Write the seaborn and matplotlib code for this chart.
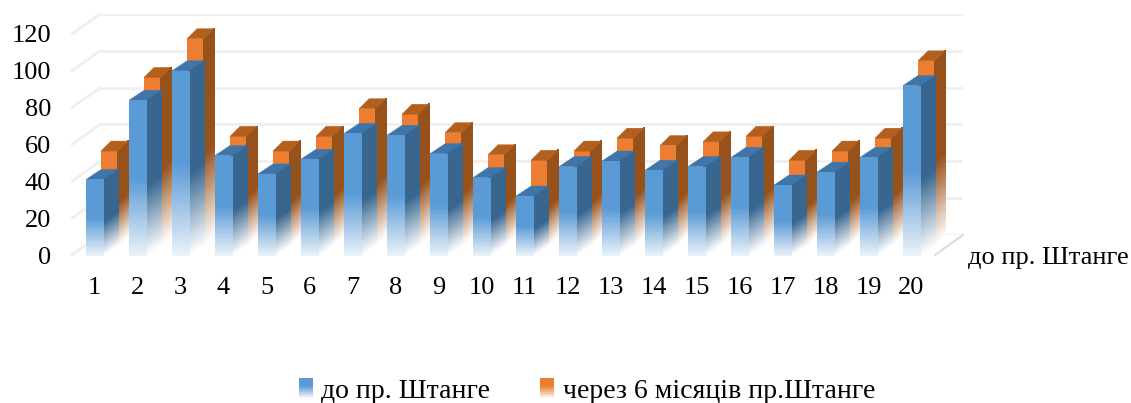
import matplotlib
matplotlib.use('Agg')
import matplotlib.pyplot as plt
import numpy as np
import pandas as pd
import seaborn as sns
from matplotlib.collections import PolyCollection
from matplotlib.legend_handler import HandlerBase
from matplotlib.patches import Patch, Polygon, Rectangle

# Data
participants = [str(i) for i in range(1, 21)]
before = [41, 84, 100, 54, 44, 52, 66, 65, 55, 42, 32, 48, 51, 46, 48, 53, 38, 45, 53, 92]
after = [51, 91, 112, 59, 51, 59, 74, 71, 61, 49, 46, 51, 58, 54, 56, 59, 46, 51, 58, 100]
y_ticks = [0, 20, 40, 60, 80, 100, 120]
series_names = ['до пр. Штанге', 'через 6 місяців пр.Штанге']

# Colours
BLUE, BLUE_SIDE, BLUE_TOP = '#5b9bd5', '#38668f', '#3f75a8'
ORANGE, ORANGE_SIDE, ORANGE_TOP = '#ed7d31', '#97521c', '#b3601f'

W, H = 1131, 403
PX_X = 43.0     # pixels per category
PX_Y = 221 / 120  # pixels per value unit

sns.set_style('white')
plt.rcParams['font.family'] = ['Liberation Serif', 'DejaVu Serif']
plt.rcParams['text.color'] = 'black'
plt.rcParams['xtick.color'] = 'black'
plt.rcParams['ytick.color'] = 'black'
fig = plt.figure(figsize=(W / 100, H / 100), dpi=100)


def plane(left, y0, width=861):
    """Transparent axes whose zero line sits at pixel (left, y0)."""
    ax = fig.add_axes([left / W, 1 - y0 / H, width / W, 221 / H])
    ax.patch.set_alpha(0)
    sns.despine(ax=ax, left=True, bottom=True)
    return ax


def mix_white(color, amount):
    rgb = np.array(matplotlib.colors.to_rgb(color))
    return tuple(rgb + (1 - rgb) * amount)


def faded(ax, corners, color, fade, start, n=60):
    """Draw a face as thin slices, going to white at its lower edge."""
    (bl, br, tr, tl) = [np.array(c, dtype=float) for c in corners]
    polys, colors = [], []
    for i in range(n):
        t0, t1 = i / n, (i + 1) / n
        polys.append([bl + (tl - bl) * t0, br + (tr - br) * t0,
                      br + (tr - br) * t1, bl + (tl - bl) * t1])
        amount = start * max(0, 1 - ((t0 + t1) / 2) / fade)
        colors.append(mix_white(color, amount))
    ax.add_collection(PolyCollection(polys, facecolors=colors, edgecolors=colors,
                                     linewidths=0.5, antialiaseds=False,
                                     zorder=2, clip_on=False))


def dress_bars(ax, px_dx, px_dy, side, top, front_fade=None, side_fade=0.45):
    dx, dy = px_dx / PX_X, px_dy / PX_Y
    for bar in ax.patches:
        x, w, h = bar.get_x(), bar.get_width(), bar.get_height()
        faded(ax, [(x + w, 0), (x + w + dx, dy), (x + w + dx, h + dy), (x + w, h)],
              side, side_fade, 1.0)
        ax.add_patch(Polygon([(x, h), (x + w, h), (x + w + dx, h + dy), (x + dx, h + dy)],
                             facecolor=top, edgecolor=top, linewidth=0.3,
                             zorder=2, clip_on=False))
        if front_fade:
            faded(ax, [(x, 0), (x + w, 0), (x + w, h), (x, h)],
                  bar.get_facecolor(), front_fade, 0.88)


class FadedSquare(HandlerBase):
    def create_artists(self, legend, orig, xd, yd, width, height, fontsize, trans):
        artists = []
        n = 12
        for i in range(n):
            amount = 0.85 * max(0, 1 - (i + 0.5) / n / 0.6)
            c = mix_white(orig.get_facecolor(), amount)
            artists.append(Rectangle((-xd, -yd + height * i / n), width, height / n + 0.3,
                                     facecolor=c, edgecolor='none', transform=trans))
        return artists


df = pd.DataFrame({'n': participants, 'before': before, 'after': after})
xlim = (-0.523, 19.5)

# Back wall with gridlines
ax_wall = plane(100, 235, 863)
ax_wall.set_xlim(*xlim)
ax_wall.set_ylim(0, 120)
ax_wall.set_yticks(y_ticks)
ax_wall.set_xticks([])
ax_wall.set_yticklabels([])
ax_wall.tick_params(length=0)
ax_wall.grid(axis='y', color='#efefef', linewidth=2)
wall_dx, wall_dy = 28 / PX_X, 20 / PX_Y
for v in y_ticks:
    ax_wall.plot([xlim[0] - wall_dx, xlim[0]], [v - wall_dy, v], color='#efefef',
                 linewidth=2, clip_on=False)
ax_wall.plot([xlim[1] - wall_dx, xlim[1]], [-wall_dy, 0], color='#dcdcdc',
             linewidth=1.5, clip_on=False)

# Rear row
ax_back = plane(87, 245)
sns.barplot(data=df, x='n', y='after', color=ORANGE, saturation=1, width=0.395,
            ax=ax_back, linewidth=0)
ax_back.set_xlim(*xlim)
ax_back.set_ylim(0, 120)
ax_back.set_xticks([])
ax_back.set_yticks([])
ax_back.set_xlabel('')
ax_back.set_ylabel('')
dress_bars(ax_back, 10, 10, ORANGE_SIDE, ORANGE_TOP)

# Front row
ax_front = plane(72, 255)
sns.barplot(data=df, x='n', y='before', color=BLUE, saturation=1, width=0.395,
            ax=ax_front, linewidth=0)
ax_front.set_xlim(*xlim)
ax_front.set_ylim(0, 120)
ax_front.set_yticks(y_ticks)
ax_front.set_xlabel('')
ax_front.set_ylabel('')
ax_front.tick_params(axis='y', length=0, pad=15, labelsize=19)
ax_front.tick_params(axis='x', length=0, pad=16, labelsize=19)
dress_bars(ax_front, 15, 10, BLUE_SIDE, BLUE_TOP, front_fade=0.5)

# Depth axis label
fig.text(968 / W, 1 - 258 / H, series_names[0], fontsize=19, va='center', ha='left')

# Legend
handles = [Patch(facecolor=BLUE, label=series_names[0]),
           Patch(facecolor=ORANGE, label=series_names[1])]
fig.legend(handles=handles, loc='center', bbox_to_anchor=(587 / W, 1 - 391 / H), ncol=2,
           frameon=False, fontsize=20, handlelength=0.5, handleheight=0.6,
           handletextpad=0.3, columnspacing=1.8,
           handler_map={Patch: FadedSquare()})

fig.savefig('out.png', dpi=100)
